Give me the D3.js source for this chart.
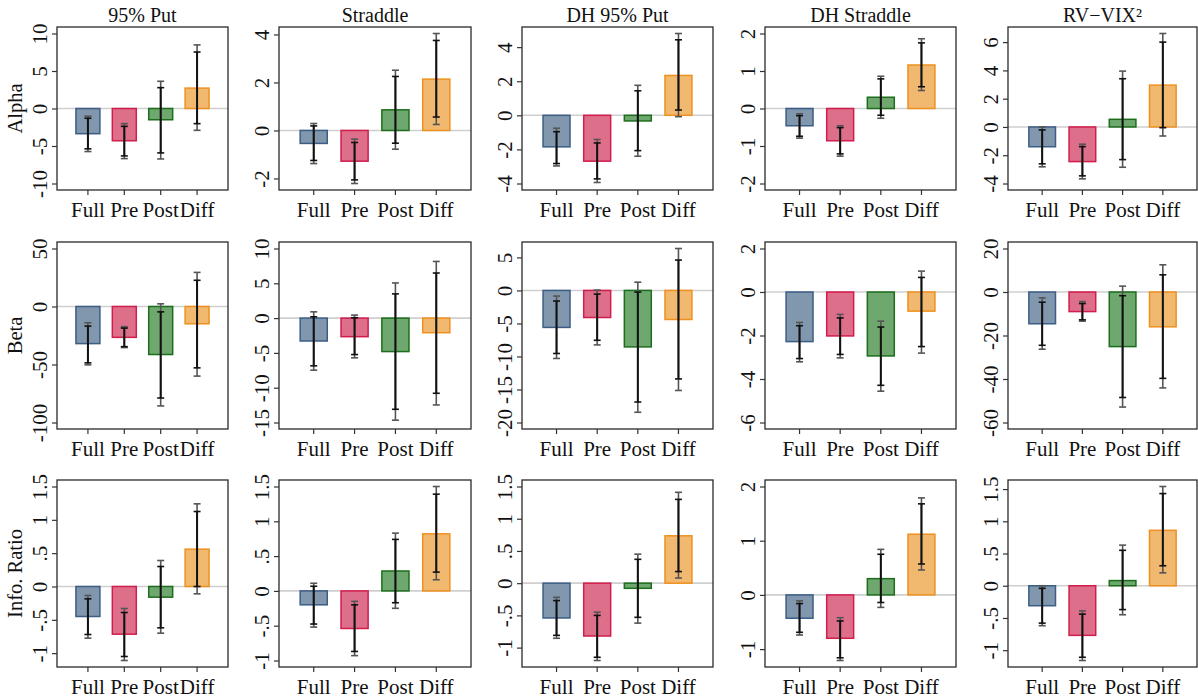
<!DOCTYPE html>
<html><head><meta charset="utf-8">
<script src="https://cdn.jsdelivr.net/npm/d3@7"></script>
<style>
body{margin:0;background:#fff;}
svg{display:block;font-family:"Liberation Serif","Times New Roman",serif;}
</style></head>
<body><svg id="c" width="1198" height="699"></svg>
<script>
const strategies = ["95% Put","Straddle","DH 95% Put","DH Straddle","RV\u2212VIX\u00B2"];
const metrics = ["Alpha","Beta","Info. Ratio"];
const periods = ["Full","Pre","Post","Diff"];

// Alpha
const alphaEst  = [[-3.36,-4.30,-1.50,2.72],[-0.54,-1.28,0.86,2.14],[-1.85,-2.69,-0.33,2.34],[-0.46,-0.86,0.30,1.16],[-1.40,-2.45,0.54,2.96]];
const alphaHi95 = [[-1.03,-2.02,3.63,8.48],[0.29,-0.36,2.51,4.04],[-0.76,-1.42,1.76,4.80],[-0.14,-0.46,0.86,1.86],[0.00,-1.22,3.95,6.61]];
const alphaHi90 = [[-1.30,-2.38,2.78,7.53],[0.19,-0.50,2.25,3.75],[-0.96,-1.62,1.44,4.43],[-0.19,-0.51,0.79,1.75],[-0.21,-1.39,3.41,6.00]];
const alphaLo90 = [[-5.38,-6.32,-5.92,-2.02],[-1.25,-2.06,-0.53,0.56],[-2.83,-3.73,-2.07,0.31],[-0.74,-1.21,-0.18,0.58],[-2.61,-3.46,-2.31,-0.05]];
const alphaLo95 = [[-5.74,-6.68,-6.73,-2.91],[-1.38,-2.21,-0.78,0.25],[-2.97,-3.94,-2.40,-0.08],[-0.79,-1.27,-0.26,0.48],[-2.82,-3.67,-2.85,-0.64]];
// Beta
const betaEst  = [[-32.0,-26.6,-41.4,-14.9],[-3.29,-2.67,-4.81,-2.10],[-5.6,-4.1,-8.55,-4.4],[-2.28,-2.02,-2.94,-0.88],[-14.6,-9.0,-25.1,-16.0]];
const betaHi95 = [[-14.0,-17.4,2.3,29.4],[0.9,0.43,5.05,8.14],[-0.85,0.05,1.25,6.35],[-1.40,-1.03,-1.34,0.96],[-2.7,-4.4,2.7,12.5]];
const betaHi90 = [[-16.9,-18.6,-4.6,22.6],[0.19,0.05,3.48,6.48],[-1.6,-0.55,-0.25,4.6],[-1.55,-1.19,-1.61,0.67],[-4.7,-5.3,-1.7,7.9]];
const betaLo90 = [[-48.6,-34.6,-78.9,-52.9],[-6.86,-5.24,-13.1,-10.8],[-9.55,-7.55,-16.9,-13.4],[-3.06,-2.87,-4.29,-2.51],[-24.5,-12.8,-48.5,-39.7]];
const betaLo95 = [[-50.3,-35.4,-85.7,-60.0],[-7.48,-5.71,-14.67,-12.48],[-10.3,-8.25,-18.45,-15.15],[-3.21,-3.03,-4.56,-2.81],[-26.3,-13.4,-52.9,-44.1]];
// Information ratio
const irEst  = [[-0.45,-0.715,-0.16,0.56],[-0.20,-0.54,0.286,0.82],[-0.54,-0.82,-0.08,0.735],[-0.43,-0.80,0.30,1.12],[-0.31,-0.77,0.08,0.86]];
const irHi95 = [[-0.135,-0.33,0.39,1.24],[0.11,-0.15,0.83,1.50],[-0.22,-0.45,0.45,1.41],[-0.11,-0.42,0.84,1.79],[0.0,-0.39,0.63,1.54]];
const irHi90 = [[-0.185,-0.39,0.30,1.125],[0.067,-0.20,0.74,1.39],[-0.27,-0.50,0.37,1.30],[-0.16,-0.48,0.75,1.68],[-0.04,-0.44,0.55,1.43]];
const irLo90 = [[-0.72,-1.05,-0.62,0.0],[-0.476,-0.87,-0.17,0.27],[-0.81,-1.15,-0.53,0.18],[-0.69,-1.16,-0.14,0.57],[-0.58,-1.11,-0.37,0.31]];
const irLo95 = [[-0.775,-1.11,-0.70,-0.11],[-0.52,-0.93,-0.25,0.16],[-0.855,-1.20,-0.62,0.08],[-0.74,-1.21,-0.23,0.46],[-0.62,-1.16,-0.45,0.20]];

// Y-axis tick values
const alphaTicks = [[-10,-5,0,5,10],[-2,0,2,4],[-4,-2,0,2,4],[-2,-1,0,1,2],[-4,-2,0,2,4,6]];
const betaTicks  = [[-100,-50,0,50],[-15,-10,-5,0,5,10],[-20,-15,-10,-5,0,5],[-6,-4,-2,0,2],[-60,-40,-20,0,20]];
const irTicks    = [[-1,-0.5,0,0.5,1,1.5],[-1,-0.5,0,0.5,1,1.5],[-1,-0.5,0,0.5,1,1.5],[-1,0,1,2],[-1,-0.5,0,0.5,1,1.5]];

const est  = [alphaEst, betaEst, irEst];
const hi95 = [alphaHi95, betaHi95, irHi95];
const hi90 = [alphaHi90, betaHi90, irHi90];
const lo90 = [alphaLo90, betaLo90, irLo90];
const lo95 = [alphaLo95, betaLo95, irLo95];
const ticks = [alphaTicks, betaTicks, irTicks];

const fills   = ["#8097ae","#dd6f8b","#6fa86f","#f1b86f"];
const strokes = ["#3b5d86","#d21c4c","#1c6e1c","#ef911e"];

// layout
const colLeft  = [57, 279, 522, 765, 1008];
const colRight = [228, 471, 713, 956, 1197];
const rowTop    = [27, 242, 480];
const rowBottom = [190, 429, 667];
const pad = 6.5;
const fontFam = "Liberation Serif, Times New Roman, serif";

const fmt = v => {
  if (v === 0) return "0";
  let s = String(Math.abs(v));
  if (s.startsWith("0.")) s = s.slice(1);
  return (v < 0 ? "-" : "") + s;
};

const svg = d3.select("#c");

for (let r = 0; r < 3; r++) {
  for (let c = 0; c < 5; c++) {
    const L = colLeft[c], R = colRight[c], T = rowTop[r], B = rowBottom[r];
    const e = est[r][c], h5 = hi95[r][c], h9 = hi90[r][c], l9 = lo90[r][c], l5 = lo95[r][c];
    const tk = ticks[r][c];
    const lo = Math.min(d3.min(tk), d3.min(l5), d3.min(e));
    const hi = Math.max(d3.max(tk), d3.max(h5), d3.max(e));
    const y = d3.scaleLinear().domain([lo, hi]).range([B - pad, T + pad]);
    const x = d3.scaleBand().domain(periods).range([L, R]).paddingInner(0.3).paddingOuter(0.5);

    const g = svg.append("g");

    // zero line
    g.append("line").attr("x1", L).attr("x2", R).attr("y1", y(0)).attr("y2", y(0))
      .attr("stroke", "#cfcfcf").attr("stroke-width", 1.6);

    // bars
    g.selectAll("rect.bar").data(periods).join("rect").attr("class", "bar")
      .attr("x", d => x(d) + 0.75)
      .attr("width", x.bandwidth() - 1.5)
      .attr("y", (d, i) => Math.min(y(e[i]), y(0)))
      .attr("height", (d, i) => Math.abs(y(e[i]) - y(0)))
      .attr("fill", (d, i) => fills[i])
      .attr("stroke", (d, i) => strokes[i])
      .attr("stroke-width", 1.5);

    const cx = d => x(d) + x.bandwidth() / 2;
    const cw = 3.5;
    periods.forEach((p, i) => {
      const xc = cx(p);
      // outer (95%) interval
      g.append("line").attr("x1", xc).attr("x2", xc).attr("y1", y(l5[i])).attr("y2", y(h5[i]))
        .attr("stroke", "#555").attr("stroke-width", 1.6);
      [l5[i], h5[i]].forEach(v => g.append("line").attr("x1", xc - cw).attr("x2", xc + cw)
        .attr("y1", y(v)).attr("y2", y(v)).attr("stroke", "#555").attr("stroke-width", 1.6));
      // inner (90%) interval
      g.append("line").attr("x1", xc).attr("x2", xc).attr("y1", y(l9[i])).attr("y2", y(h9[i]))
        .attr("stroke", "#111").attr("stroke-width", 2);
      [l9[i], h9[i]].forEach(v => g.append("line").attr("x1", xc - cw).attr("x2", xc + cw)
        .attr("y1", y(v)).attr("y2", y(v)).attr("stroke", "#111").attr("stroke-width", 1.6));
    });

    // frame
    g.append("rect").attr("x", L).attr("y", T).attr("width", R - L).attr("height", B - T)
      .attr("fill", "none").attr("stroke", "#2a2a2a").attr("stroke-width", 1.3);

    // y axis
    const ya = g.append("g").attr("transform", `translate(${L},0)`)
      .call(d3.axisLeft(y).tickValues(tk).tickFormat(fmt).tickSize(5));
    ya.select(".domain").remove();
    ya.selectAll(".tick line").attr("stroke", "#333").attr("stroke-width", 1.2);
    ya.selectAll(".tick text")
      .attr("transform", "rotate(-90)")
      .attr("x", 0).attr("y", -10).attr("dy", 0)
      .attr("text-anchor", "middle")
      .attr("font-size", 21).attr("fill", "#111")
      .attr("font-family", fontFam);

    // x axis
    const xa = g.append("g").attr("transform", `translate(0,${B})`)
      .call(d3.axisBottom(x).tickSize(5).tickPadding(7));
    xa.select(".domain").remove();
    xa.selectAll(".tick line").attr("stroke", "#333").attr("stroke-width", 1.2);
    xa.selectAll(".tick text").attr("font-size", 21).attr("fill", "#111")
      .attr("font-family", fontFam);

    // titles
    if (r === 0) {
      svg.append("text").attr("x", (L + R) / 2).attr("y", 22).attr("text-anchor", "middle")
        .attr("font-size", 20).attr("fill", "#111").text(strategies[c]);
    }
    if (c === 0) {
      svg.append("text").attr("transform", `translate(22,${(T + B) / 2}) rotate(-90)`)
        .attr("text-anchor", "middle").attr("font-size", 20.5).attr("fill", "#111").text(metrics[r]);
    }
  }
}
</script></body></html>
